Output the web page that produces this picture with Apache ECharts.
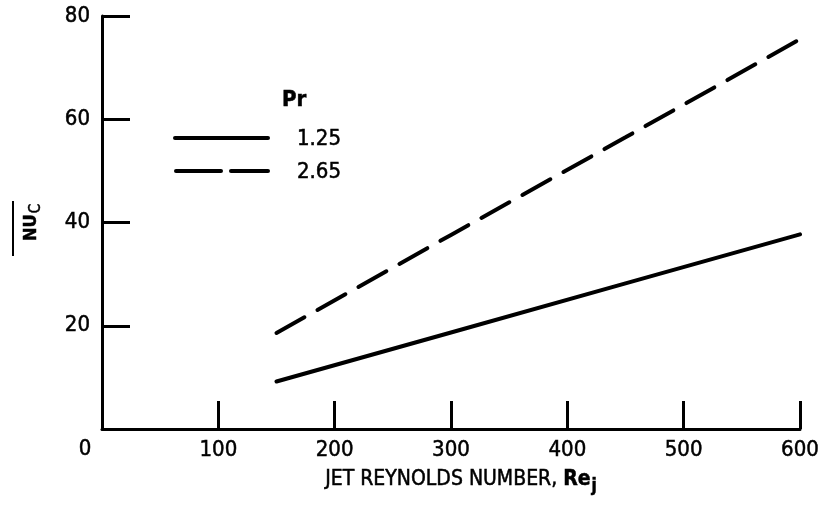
<!DOCTYPE html>
<html><head><meta charset="utf-8">
<script src="https://cdn.jsdelivr.net/npm/echarts@6/dist/echarts.min.js"></script>
<style>html,body{margin:0;padding:0;background:#fff}#c{width:826px;height:507px}</style>
</head><body><div id="c"></div>
<script>
const FONT = '"Liberation Sans Narrow","DejaVu Sans Condensed","DejaVu Sans Mono",sans-serif';
const xTicks = [0, 100, 200, 300, 400, 500, 600];
const yTicks = [0, 20, 40, 60, 80];
const reynolds = [150, 300, 450, 600];
const pr125 = [9.2, 18.7, 28.2, 37.7];
const pr265 = [18.6, 37.6, 56.5, 75.5];
const seriesNames = ['1.25', '2.65'];
const legendTitle = 'Pr';

const TB = {textBorderColor: '#000', textBorderWidth: 0.5};
const chart = echarts.init(document.getElementById('c'));
chart.setOption({
  animation: false,
  backgroundColor: '#fff',
  grid: {left: 102, right: 26, top: 16, bottom: 78},
  xAxis: {
    type: 'value', min: xTicks[0], max: xTicks[xTicks.length - 1], interval: 100,
    name: 'JET REYNOLDS NUMBER, {b|Re}{s|j}', nameLocation: 'middle', nameGap: 35,
    nameTextStyle: Object.assign({fontFamily: FONT, fontSize: 21, color: '#000', padding: [0, 0, 0, 20],
      rich: {b: Object.assign({fontFamily: FONT, fontSize: 21, fontWeight: 'bold', color: '#000'}, TB),
             s: Object.assign({fontFamily: FONT, fontSize: 17, fontWeight: 'bold', color: '#000', verticalAlign: 'bottom', padding: [14, 0, 0, 1]}, TB)}}, TB),
    axisLine: {show: true, onZero: false, lineStyle: {color: '#000', width: 3}},
    axisTick: {show: true, inside: true, length: 28, lineStyle: {color: '#000', width: 3}},
    axisLabel: Object.assign({fontFamily: FONT, fontSize: 22, color: '#000', margin: 10, showMinLabel: false}, TB),
    splitLine: {show: false}
  },
  yAxis: {
    type: 'value', min: yTicks[0], max: yTicks[yTicks.length - 1], interval: 20,
    name: '{a|NU}{s|C}', nameLocation: 'middle', nameGap: 58, nameRotate: 90,
    nameTextStyle: {rich: {a: Object.assign({fontFamily: FONT, fontSize: 18, fontWeight: 'bold', color: '#000'}, TB),
                           s: Object.assign({fontFamily: FONT, fontSize: 15, color: '#000', padding: [10, 0, 0, 1]}, TB)}},
    axisLine: {show: true, onZero: false, lineStyle: {color: '#000', width: 3}},
    axisTick: {show: true, inside: true, length: 28, lineStyle: {color: '#000', width: 3}},
    axisLabel: Object.assign({fontFamily: FONT, fontSize: 22, color: '#000', margin: 12, showMinLabel: false}, TB),
    splitLine: {show: false}
  },
  graphic: [
    {type: 'text', x: 85, y: 449, style: Object.assign({text: String(xTicks[0]), fontFamily: FONT, fontSize: 22, fill: '#000', align: 'center', verticalAlign: 'middle', stroke: '#000', lineWidth: 0.5})},
    {type: 'text', x: 282, y: 100, style: {text: legendTitle, fontFamily: FONT, fontSize: 22, fontWeight: 'bold', fill: '#000', verticalAlign: 'middle', stroke: '#000', lineWidth: 0.5}},
    {type: 'line', shape: {x1: 175, y1: 138, x2: 268, y2: 138}, style: {stroke: '#000', lineWidth: 4, lineCap: 'round'}},
    {type: 'line', shape: {x1: 176, y1: 171, x2: 221, y2: 171}, style: {stroke: '#000', lineWidth: 4, lineCap: 'round'}},
    {type: 'line', shape: {x1: 231, y1: 171, x2: 268, y2: 171}, style: {stroke: '#000', lineWidth: 4, lineCap: 'round'}},
    {type: 'text', x: 297, y: 139, style: {text: seriesNames[0], fontFamily: FONT, fontSize: 22, fill: '#000', verticalAlign: 'middle', stroke: '#000', lineWidth: 0.5}},
    {type: 'text', x: 297, y: 172, style: {text: seriesNames[1], fontFamily: FONT, fontSize: 22, fill: '#000', verticalAlign: 'middle', stroke: '#000', lineWidth: 0.5}},
    {type: 'line', shape: {x1: 13, y1: 201, x2: 13, y2: 256}, style: {stroke: '#000', lineWidth: 2}}
  ],
  series: [
    {name: seriesNames[0], type: 'line', showSymbol: false, symbol: 'none',
     data: reynolds.map((x, i) => [x, pr125[i]]),
     lineStyle: {color: '#000', width: 4, type: 'solid', cap: 'round'}},
    {name: seriesNames[1], type: 'line', showSymbol: false, symbol: 'none',
     data: reynolds.map((x, i) => [x, pr265[i]]),
     lineStyle: {color: '#000', width: 4, type: [32, 15], cap: 'round'}}
  ]
});
</script></body></html>
